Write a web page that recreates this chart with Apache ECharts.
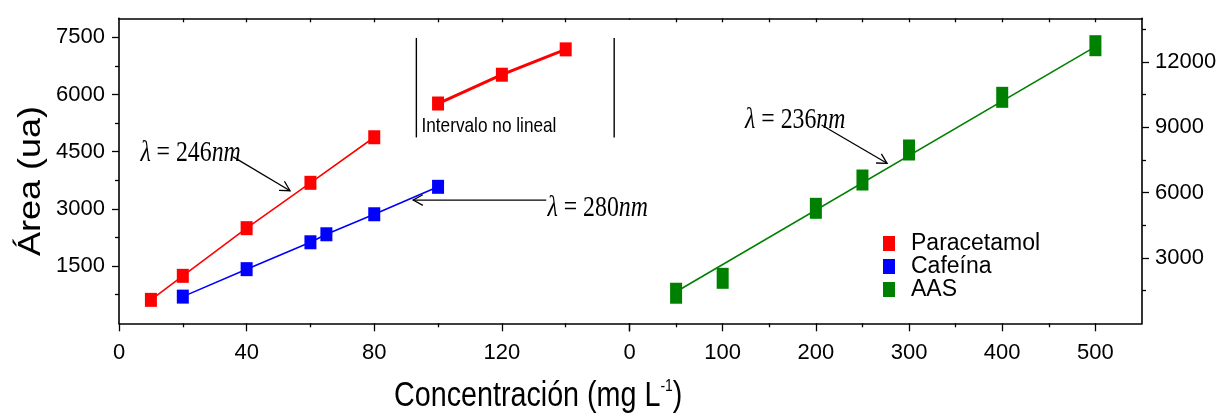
<!DOCTYPE html>
<html><head><meta charset="utf-8">
<script src="https://cdn.jsdelivr.net/npm/echarts@6/dist/echarts.min.js"></script>
<style>html,body{margin:0;padding:0;background:#fff;}#c{width:1219px;height:419px;}</style>
</head><body><div id="c"></div>
<script>
// ---------- data ----------
const legendNames = ['Paracetamol', 'Cafeína', 'AAS'];
const parX = [10, 20, 40, 60, 80];
const parY = [615, 1245, 2495, 3685, 4880];
const parNLX = [100, 120, 140];
const parNLY = [5765, 6520, 7185];
const cafX = [20, 40, 60, 65, 80, 100];
const cafY = [700, 1420, 2125, 2335, 2860, 3580];
const aasX = [50, 100, 200, 250, 300, 400, 500];
const aasY = [1380, 2065, 5278, 6577, 7955, 10373, 12742];
const aasFitX = [50, 500];
const aasFitY = [1450, 12700];

// ---------- ticks ----------
const xLeftMajor = [0, 40, 80, 120, 160];
const xLeftLabels = [0, 40, 80, 120];
const xLeftMinor = [20, 60, 100, 140];
const xLeftTop = [20, 40, 60, 80, 100, 120, 140];
const xRightMajor = [0, 100, 200, 300, 400, 500];
const xRightLabels = [0, 100, 200, 300, 400, 500];
const xRightMinor = [50, 150, 250, 350, 450];
const xRightTop = [50, 100, 150, 200, 250, 300, 350, 400, 450, 500];
const yLeftMajor = [1500, 3000, 4500, 6000, 7500];
const yLeftMinor = [750, 2250, 3750, 5250, 6750];
const yRightMajor = [3000, 6000, 9000, 12000];
const yRightMinor = [1500, 4500, 7500, 10500, 13500];

// ---------- annotations (data coordinates) ----------
const lambdaValues = ['246', '280', '236'];
const lambdaPanel = [0, 0, 1];
const lambdaTextAt = [[6.7, 4464], [134.3, 3024], [124, 9332]];
const arrowFrom = [[35.8, 4364], [133.9, 3233], [206.1, 9102]];
const arrowTo = [[53.6, 3477], [92.2, 3233], [276.4, 7344]];
const bracketX = [93.2, 155.2];
const bracketY = [4875, 7485];
const nonLinearText = 'Intervalo no lineal';
const nonLinearAt = [94.8, 5171];
const xTitle = 'Concentración (mg L';
const yTitle = 'Área (ua)';

const SANS = "'Liberation Sans',Arial,sans-serif";
const SERIF = "'Liberation Serif','Times New Roman',serif";
const zip = (a, b) => a.map((v, i) => [v, b[i]]);

const lineBlack = { color: '#000', width: 1.6 };
const tickBlack = { color: '#000', width: 1.3 };
const labelStyle = { fontFamily: SANS, fontSize: 22, color: '#000', formatter: v => String(v) };

function ax(grid, pos, max, opts) {
  return Object.assign({
    gridIndex: grid, type: 'value', position: pos, min: 0, max: max,
    splitLine: { show: false },
  }, opts);
}

const option = {
  animation: false,
  backgroundColor: '#fff',
  grid: [
    { left: 119, right: 589.5, top: 18.3, bottom: 95.7, outerBoundsMode: 'none', containLabel: false },
    { left: 629.5, right: 77, top: 18.3, bottom: 95.7, outerBoundsMode: 'none', containLabel: false }
  ],
  xAxis: [
    ax(0, 'bottom', 160, { interval: 40,
      axisLine: { show: true, onZero: false, lineStyle: lineBlack },
      axisTick: { show: true, length: 8, customValues: xLeftMajor, lineStyle: tickBlack },
      axisLabel: Object.assign({ customValues: xLeftLabels, margin: 19 }, labelStyle) }),
    ax(0, 'bottom', 160, { interval: 20,
      axisLine: { show: false, onZero: false },
      axisTick: { show: true, length: 4, customValues: xLeftMinor, lineStyle: tickBlack },
      axisLabel: { show: false } }),
    ax(0, 'top', 160, { interval: 20,
      axisLine: { show: true, onZero: false, lineStyle: lineBlack },
      axisTick: { show: true, inside: true, length: 4, customValues: xLeftTop, lineStyle: tickBlack },
      axisLabel: { show: false } }),
    ax(1, 'bottom', 550, { interval: 50,
      axisLine: { show: true, onZero: false, lineStyle: lineBlack },
      axisTick: { show: true, length: 8, customValues: xRightMajor, lineStyle: tickBlack },
      axisLabel: Object.assign({ customValues: xRightLabels, margin: 19 }, labelStyle) }),
    ax(1, 'bottom', 550, { interval: 50,
      axisLine: { show: false, onZero: false },
      axisTick: { show: true, length: 4, customValues: xRightMinor, lineStyle: tickBlack },
      axisLabel: { show: false } }),
    ax(1, 'top', 550, { interval: 50,
      axisLine: { show: true, onZero: false, lineStyle: lineBlack },
      axisTick: { show: true, inside: true, length: 4, customValues: xRightTop, lineStyle: tickBlack },
      axisLabel: { show: false } })
  ],
  yAxis: [
    ax(0, 'left', 8000, { interval: 1500,
      axisLine: { show: true, onZero: false, lineStyle: lineBlack },
      axisTick: { show: true, length: 7, customValues: yLeftMajor, lineStyle: tickBlack },
      axisLabel: Object.assign({ customValues: yLeftMajor, margin: 14 }, labelStyle) }),
    ax(0, 'left', 8000, { interval: 750,
      axisLine: { show: false, onZero: false },
      axisTick: { show: true, length: 4, customValues: yLeftMinor, lineStyle: tickBlack },
      axisLabel: { show: false } }),
    ax(1, 'right', 14000, { interval: 3000,
      axisLine: { show: true, onZero: false, lineStyle: lineBlack },
      axisTick: { show: true, length: 7, customValues: yRightMajor, lineStyle: tickBlack },
      axisLabel: Object.assign({ customValues: yRightMajor, margin: 13 }, labelStyle) }),
    ax(1, 'right', 14000, { interval: 1500,
      axisLine: { show: false, onZero: false },
      axisTick: { show: true, length: 4, customValues: yRightMinor, lineStyle: tickBlack },
      axisLabel: { show: false } })
  ],
  legend: {
    data: legendNames,
    orient: 'vertical', left: 883, top: 232, padding: 0,
    icon: 'rect', itemWidth: 12, itemHeight: 15, itemGap: 0,
    textStyle: { fontFamily: SANS, fontSize: 23, color: '#000', lineHeight: 23, padding: [0, 0, 0, 11] }
  },
  series: [
    { name: legendNames[0], type: 'line', xAxisIndex: 0, yAxisIndex: 0,
      data: zip(parX, parY), symbol: 'rect', symbolSize: [12, 14],
      itemStyle: { color: '#ff0000' }, lineStyle: { color: '#ff0000', width: 1.6 } },
    { name: '_parNL', type: 'line', xAxisIndex: 0, yAxisIndex: 0,
      data: zip(parNLX, parNLY), symbol: 'rect', symbolSize: [12, 14],
      itemStyle: { color: '#ff0000' }, lineStyle: { color: '#ff0000', width: 3 } },
    { name: legendNames[1], type: 'line', xAxisIndex: 0, yAxisIndex: 0,
      data: zip(cafX, cafY), symbol: 'rect', symbolSize: [12, 14],
      itemStyle: { color: '#0000ff' }, lineStyle: { color: '#0000ff', width: 1.6 } },
    { name: '_aasFit', type: 'line', xAxisIndex: 3, yAxisIndex: 2,
      data: zip(aasFitX, aasFitY), symbol: 'none',
      lineStyle: { color: '#008000', width: 1.6 } },
    { name: legendNames[2], type: 'scatter', xAxisIndex: 3, yAxisIndex: 2,
      data: zip(aasX, aasY), symbol: 'rect', symbolSize: [12, 21],
      itemStyle: { color: '#008000', opacity: 1 } }
  ]
};

const chart = echarts.init(document.getElementById('c'));
chart.setOption(option);

function toPx(panel, p) {
  return panel === 0
    ? chart.convertToPixel({ xAxisIndex: 0, yAxisIndex: 0 }, p)
    : chart.convertToPixel({ xAxisIndex: 3, yAxisIndex: 2 }, p);
}
function arrow(p1, p2) {
  const a = Math.atan2(p2[1] - p1[1], p2[0] - p1[0]);
  const L = 11, s = 0.5;
  const h1 = [p2[0] - L * Math.cos(a - s), p2[1] - L * Math.sin(a - s)];
  const h2 = [p2[0] - L * Math.cos(a + s), p2[1] - L * Math.sin(a + s)];
  return [
    { type: 'line', shape: { x1: p1[0], y1: p1[1], x2: p2[0], y2: p2[1] }, style: { stroke: '#000', lineWidth: 1.3 }, z: 50 },
    { type: 'polyline', shape: { points: [h1, p2, h2] }, style: { stroke: '#000', lineWidth: 1.3, fill: null }, z: 50 }
  ];
}

const g = [];
lambdaValues.forEach((v, i) => {
  const pan = lambdaPanel[i];
  const tp = toPx(pan, lambdaTextAt[i]);
  g.push({
    type: 'text', x: tp[0], y: tp[1], scaleX: 0.82, z: 60,
    style: {
      x: 0, y: 0, align: 'left', verticalAlign: 'middle',
      text: '{i|λ}{r| = ' + v + '}{i|nm}',
      rich: {
        i: { fontFamily: SERIF, fontStyle: 'italic', fontSize: 29, fill: '#000' },
        r: { fontFamily: SERIF, fontSize: 29, fill: '#000' }
      }
    }
  });
  g.push(...arrow(toPx(pan, arrowFrom[i]), toPx(pan, arrowTo[i])));
});
bracketX.forEach(x => {
  const a = toPx(0, [x, bracketY[0]]), b = toPx(0, [x, bracketY[1]]);
  g.push({ type: 'line', shape: { x1: a[0], y1: a[1], x2: b[0], y2: b[1] }, style: { stroke: '#000', lineWidth: 1.4 }, z: 50 });
});
const nl = toPx(0, nonLinearAt);
g.push({ type: 'text', x: nl[0], y: nl[1], scaleX: 0.82, z: 60,
  style: { x: 0, y: 0, text: nonLinearText, align: 'left', verticalAlign: 'middle', fontFamily: SANS, fontSize: 21, fill: '#000' } });
// axis titles
g.push({ type: 'text', x: 394, y: 396, scaleX: 0.82, z: 60,
  style: { x: 0, y: 0, align: 'left', verticalAlign: 'middle',
    text: '{a|' + xTitle + '}{s|-1}{a|)}',
    rich: {
      a: { fontFamily: SANS, fontSize: 35, lineHeight: 36, fill: '#000' },
      s: { fontFamily: SANS, fontSize: 17, lineHeight: 28, fill: '#000', verticalAlign: 'top' }
    } } });
g.push({ type: 'text', x: 32, y: 181, rotation: Math.PI / 2, scaleY: 0.85, z: 60,
  style: { x: 0, y: 0, align: 'center', verticalAlign: 'middle', text: yTitle,
    fontFamily: SANS, fontSize: 36, fill: '#000' } });

chart.setOption({ graphic: g });
</script>
</body></html>
